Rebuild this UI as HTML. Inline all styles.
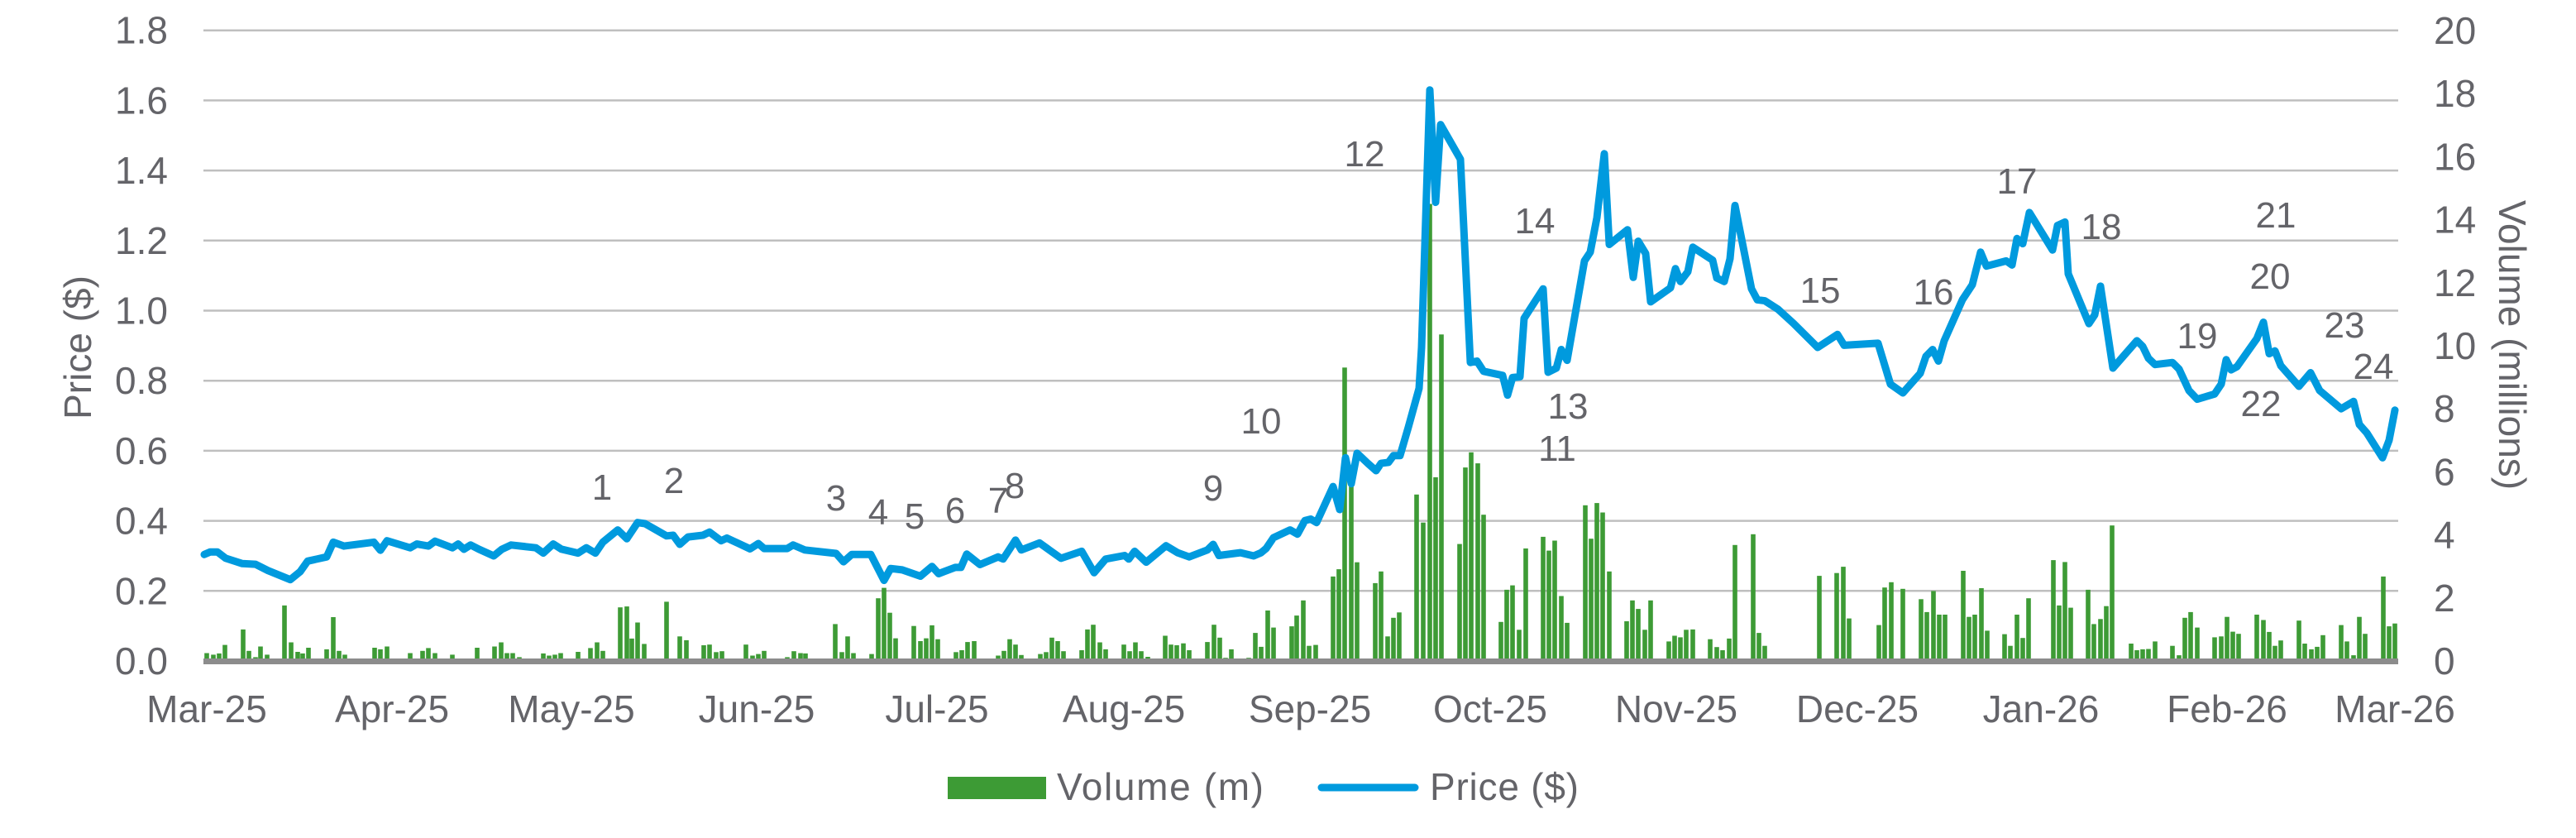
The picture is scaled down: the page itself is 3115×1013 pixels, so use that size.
<!DOCTYPE html>
<html><head><meta charset="utf-8"><style>
html,body{margin:0;padding:0;background:#fff;}
svg{display:block;}
text{font-family:"Liberation Sans",Arial,sans-serif;fill:#646469;}
</style></head><body>
<svg id="c" width="3115" height="1013" viewBox="0 0 3115 1013" xmlns="http://www.w3.org/2000/svg">
<g id="grid"></g>
<g id="bars" fill="#3d9b35"></g>
<rect x="246" y="796" width="2654" height="7" fill="#8c8c8c"/>
<polyline id="line" fill="none" stroke="#009ade" stroke-width="9" stroke-linejoin="round" stroke-linecap="round"/>
<g id="labels" font-size="44"></g>
<g id="ticks" font-size="46"></g>
<text x="0" y="0" font-size="46" text-anchor="middle" transform="translate(110,420) rotate(-90)">Price ($)</text>
<text x="0" y="0" font-size="46" text-anchor="middle" transform="translate(3022,417) rotate(90)">Volume (millions)</text>
<rect x="1146" y="939" width="119" height="27" fill="#3d9b35"/>
<text x="1278" y="967" font-size="46" textLength="250">Volume (m)</text>
<line x1="1598" y1="952" x2="1711" y2="952" stroke="#009ade" stroke-width="9" stroke-linecap="round"/>
<text x="1729" y="967" font-size="46" textLength="180">Price ($)</text>
</svg>
<script>
var NS="http://www.w3.org/2000/svg";
function el(p,t,a,txt){var e=document.createElementNS(NS,t);for(var k in a)e.setAttribute(k,a[k]);if(txt!==undefined)e.textContent=txt;document.getElementById(p).appendChild(e);return e;}
var Y0=799,PP=423.5;
function py(p){return Y0-p*PP;}
for(var i=1;i<=9;i++){var y=py(i*0.2);el("grid","line",{x1:246,x2:2900,y1:y,y2:y,stroke:"#bfbfbf","stroke-width":2.5});}
for(var i=0;i<=9;i++){var y=py(i*0.2)+16;
el("ticks","text",{x:203,y:y,"text-anchor":"end"},(i*0.2).toFixed(1));}
for(var v=0;v<=20;v+=2){el("ticks","text",{x:2943,y:(Y0-v*38.1+16).toFixed(1)},String(v));}
var months=[["Mar-25",250],["Apr-25",474],["May-25",691],["Jun-25",915],["Jul-25",1133],["Aug-25",1359],["Sep-25",1584],["Oct-25",1802],["Nov-25",2027],["Dec-25",2246],["Jan-26",2468],["Feb-26",2693],["Mar-26",2896]];
months.forEach(function(m){el("ticks","text",{x:m[1],y:873,"text-anchor":"middle"},m[0]);});
var P=[[247,.304],[254,.311],[263,.311],[273,.293],[293,.278],[309,.276],[324,.258],[351,.232],[363,.255],[372,.285],[395,.297],[403,.339],[416,.328],[452,.339],[460,.316],[468,.343],[496,.323],[504,.334],[518,.328],[526,.342],[547,.323],[554,.334],[561,.319],[569,.331],[579,.319],[597,.30],[607,.319],[618,.331],[648,.323],[657,.308],[669,.334],[679,.319],[699,.308],[709,.323],[720,.308],[729,.339],[747,.374],[758,.349],[771,.395],[780,.392],[806,.357],[814,.359],[822,.333],[832,.354],[850,.359],[858,.368],[872,.343],[879,.351],[907,.320],[917,.335],[924,.321],[952,.321],[959,.331],[973,.317],[1011,.307],[1020,.283],[1030,.304],[1053,.304],[1069,.23],[1077,.264],[1091,.26],[1113,.242],[1127,.27],[1135,.249],[1155,.267],[1162,.267],[1169,.305],[1185,.275],[1207,.297],[1213,.291],[1228,.345],[1235,.317],[1257,.337],[1283,.293],[1308,.313],[1323,.252],[1337,.291],[1360,.301],[1365,.291],[1372,.313],[1386,.282],[1410,.329],[1424,.309],[1438,.297],[1460,.317],[1467,.333],[1474,.301],[1493,.307],[1500,.309],[1516,.30],[1525,.309],[1531,.321],[1540,.352],[1560,.374],[1569,.362],[1578,.401],[1585,.405],[1592,.395],[1612,.498],[1620,.432],[1627,.58],[1634,.506],[1641,.593],[1654,.564],[1664,.543],[1670,.564],[1679,.567],[1685,.586],[1693,.586],[1703,.667],[1716,.778],[1719,.895],[1729,1.63],[1736,1.309],[1742,1.531],[1766,1.432],[1778,.852],[1786,.856],[1794,.827],[1817,.815],[1823,.759],[1829,.809],[1838,.811],[1843,.978],[1866,1.062],[1872,.824],[1882,.836],[1888,.889],[1895,.858],[1916,1.142],[1923,1.167],[1931,1.265],[1940,1.448],[1946,1.189],[1968,1.231],[1975,1.095],[1981,1.198],[1990,1.163],[1996,1.025],[2020,1.065],[2026,1.12],[2032,1.083],[2041,1.111],[2047,1.181],[2071,1.144],[2076,1.093],[2085,1.083],[2092,1.148],[2098,1.30],[2118,1.062],[2125,1.031],[2134,1.028],[2150,1.004],[2169,.963],[2198,.895],[2222,.932],[2230,.901],[2271,.907],[2286,.79],[2301,.765],[2322,.821],[2329,.87],[2337,.889],[2344,.856],[2351,.914],[2373,1.031],[2385,1.074],[2395,1.167],[2402,1.127],[2426,1.142],[2433,1.13],[2439,1.206],[2446,1.191],[2454,1.28],[2482,1.173],[2488,1.243],[2497,1.253],[2501,1.105],[2526,.963],[2533,.988],[2540,1.07],[2555,.836],[2584,.914],[2591,.898],[2598,.864],[2606,.846],[2627,.852],[2635,.833],[2647,.772],[2657,.747],[2678,.762],[2686,.79],[2692,.86],[2698,.831],[2705,.84],[2729,.92],[2737,.967],[2744,.877],[2751,.885],[2758,.843],[2780,.784],[2794,.823],[2805,.772],[2831,.72],[2846,.741],[2853,.675],[2862,.651],[2881,.58],[2889,.63],[2896,.716]];
document.getElementById("line").setAttribute("points",P.map(function(p){return p[0]+","+py(p[1]).toFixed(1);}).join(" "));
var B=[[250,.25],[258,.2],[265,.24],[272,.51],[294,1.0],[301,.32],[309,.12],[315,.46],[323,.2],[344,1.76],[352,.59],[360,.29],[366,.24],[373,.42],[395,.37],[403,1.39],[410,.32],[417,.2],[453,.42],[460,.37],[468,.46],[496,.25],[511,.32],[518,.41],[526,.25],[547,.2],[555,.08],[562,.08],[577,.42],[598,.46],[606,.59],[613,.25],[620,.25],[628,.12],[657,.24],[664,.17],[671,.2],[678,.25],[699,.29],[714,.41],[722,.59],[729,.32],[750,1.7],[758,1.73],[764,.71],[771,1.22],[779,.54],[806,1.88],[822,.78],[830,.66],[851,.5],[858,.52],[866,.28],[873,.31],[902,.52],[910,.17],[917,.22],[924,.32],[952,.12],[960,.31],[968,.25],[974,.24],[1010,1.17],[1018,.28],[1025,.78],[1032,.25],[1054,.22],[1062,1.99],[1069,2.32],[1076,1.53],[1083,.72],[1105,1.11],[1113,.63],[1120,.72],[1127,1.13],[1134,.69],[1156,.28],[1163,.34],[1170,.6],[1178,.63],[1207,.17],[1214,.32],[1221,.69],[1228,.52],[1235,.19],[1258,.22],[1265,.28],[1272,.74],[1279,.63],[1286,.31],[1308,.34],[1315,1.0],[1322,1.15],[1330,.59],[1337,.37],[1359,.52],[1366,.31],[1373,.59],[1380,.31],[1388,.13],[1409,.8],[1416,.52],[1423,.5],[1431,.56],[1438,.34],[1460,.6],[1468,1.15],[1475,.74],[1482,.1],[1489,.37],[1510,.1],[1518,.89],[1525,.45],[1533,1.6],[1540,1.06],[1562,1.1],[1568,1.44],[1576,1.92],[1583,.48],[1591,.51],[1612,2.68],[1619,2.91],[1626,9.31],[1634,5.63],[1641,3.13],[1663,2.47],[1670,2.84],[1678,.78],[1685,1.37],[1692,1.54],[1713,5.28],[1721,4.39],[1729,14.5],[1736,5.83],[1743,10.36],[1765,3.71],[1772,6.14],[1779,6.62],[1787,6.27],[1794,4.64],[1815,1.24],[1822,2.26],[1829,2.4],[1837,.99],[1845,3.57],[1866,3.94],[1873,3.5],[1880,3.82],[1888,2.06],[1895,1.21],[1917,4.94],[1924,3.88],[1931,5.01],[1938,4.71],[1946,2.84],[1967,1.26],[1974,1.92],[1981,1.65],[1989,.99],[1996,1.92],[2018,.62],[2025,.8],[2032,.75],[2039,.99],[2047,1.0],[2068,.69],[2076,.44],[2083,.34],[2091,.71],[2098,3.68],[2120,4.02],[2127,.89],[2134,.48],[2200,2.7],[2221,2.79],[2229,2.99],[2236,1.35],[2272,1.14],[2279,2.33],[2287,2.5],[2301,2.29],[2323,1.96],[2330,1.55],[2338,2.22],[2345,1.47],[2352,1.47],[2374,2.86],[2381,1.4],[2388,1.47],[2396,2.31],[2403,.96],[2424,.85],[2431,.48],[2439,1.47],[2446,.73],[2453,1.99],[2483,3.2],[2490,1.76],[2497,3.14],[2504,1.69],[2525,2.26],[2532,1.17],[2540,1.33],[2547,1.74],[2554,4.3],[2577,.55],[2584,.34],[2591,.37],[2598,.38],[2606,.62],[2627,.48],[2635,.18],[2642,1.37],[2649,1.55],[2657,1.06],[2678,.75],[2686,.78],[2693,1.4],[2700,.93],[2707,.86],[2729,1.47],[2737,1.3],[2744,.92],[2751,.48],[2758,.65],[2780,1.28],[2787,.55],[2795,.37],[2802,.45],[2809,.82],[2831,1.14],[2838,.62],[2846,.18],[2853,1.4],[2860,.86],[2882,2.68],[2889,1.1],[2896,1.19]];
B.forEach(function(b){var h=b[1]*38.1;el("bars","rect",{x:b[0]-2.8,y:(Y0-h).toFixed(1),width:5.6,height:h.toFixed(1)});});
var L=[["1",728,604],["2",815,596],["3",1011,617],["4",1062,634],["5",1106,639],["6",1155,632],["7",1207,620],["8",1227,602],["9",1467,605],["10",1525,524],["12",1650,201],["14",1856,282],["13",1896,506],["11",1883,557],["15",2201,366],["16",2338,368],["17",2439,234],["18",2541,289],["19",2657,421],["20",2745,349],["21",2752,275],["22",2734,503],["23",2835,408],["24",2870,458]];
L.forEach(function(l){el("labels","text",{x:l[1],y:l[2],"text-anchor":"middle"},l[0]);});
</script>
</body></html>
